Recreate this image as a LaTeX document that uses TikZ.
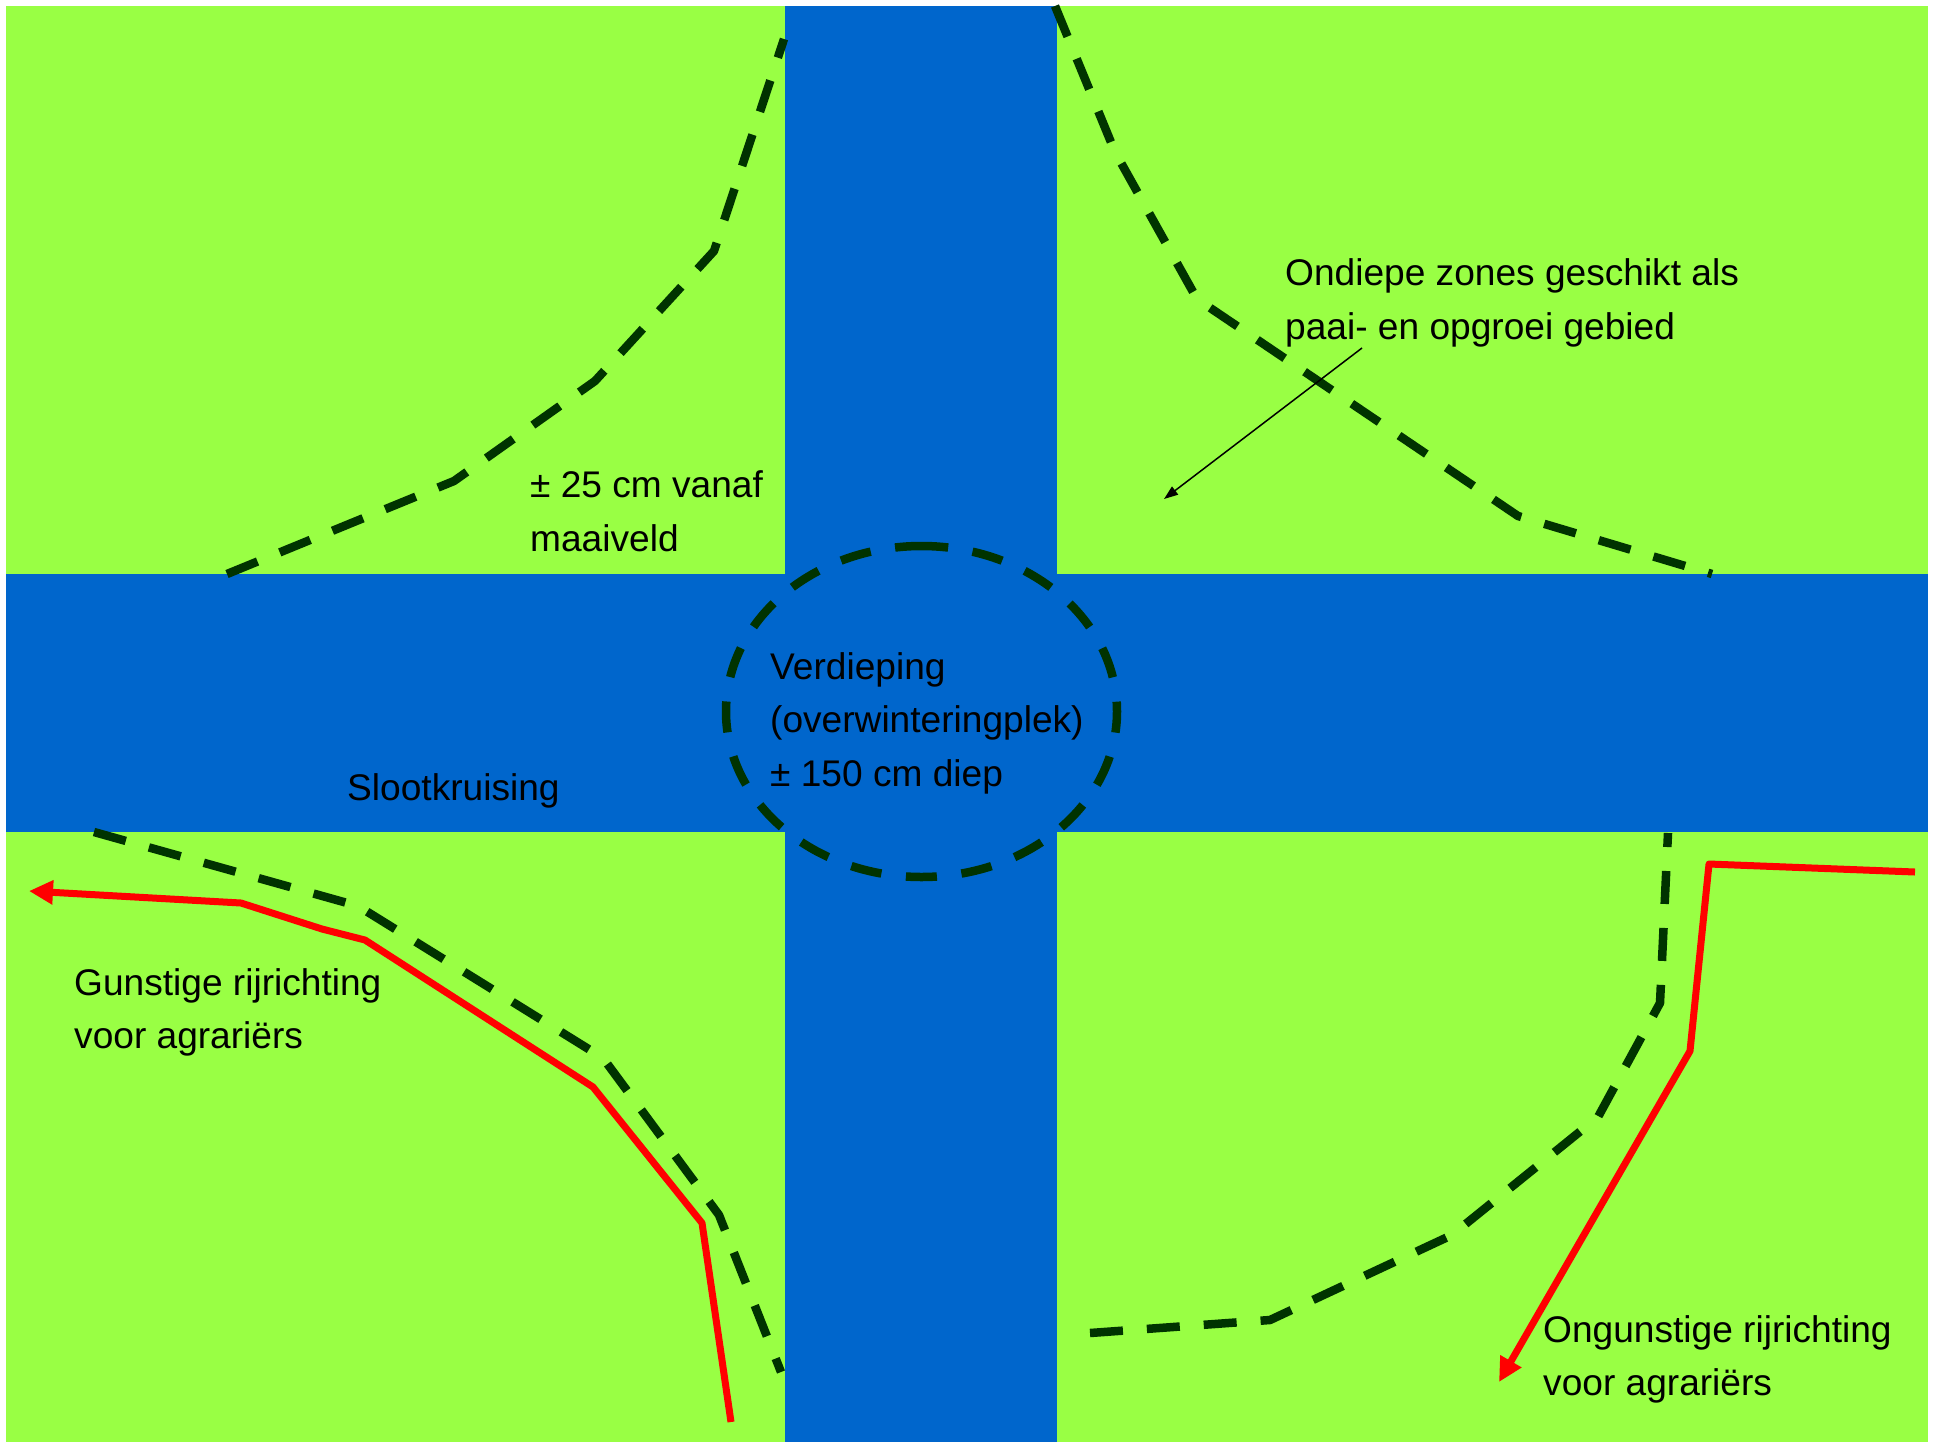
\documentclass[tikz,border=0pt]{standalone}
\usepackage{fontspec}
\setmainfont{Liberation Sans}
\usetikzlibrary{arrows.meta}
\definecolor{field}{RGB}{153,255,68}
\definecolor{water}{RGB}{0,102,204}
\definecolor{edgegreen}{RGB}{0,51,0}
\definecolor{routered}{RGB}{255,0,0}
\begin{document}
\begin{tikzpicture}[x=1pt,y=-1pt,
  zone/.style={draw=edgegreen, line width=8.5pt, dash pattern=on 33pt off 24pt, line join=round},
  routeline/.style={draw=routered, line width=7pt, line join=round, -{Triangle[length=24pt,width=23pt]}},
  pointer/.style={draw=black, line width=1.5pt, -{Triangle[length=14pt,width=10pt]}},
  lbl/.style={anchor=base west, inner sep=0pt, font=\fontsize{37.1}{45}\selectfont}
]
\useasboundingbox (0,0) rectangle (1933,1444);
% field and ditches
\fill[field] (6,6) rectangle (1928,1442);
\fill[water] (785,6) rectangle (1057,1442);
\fill[water] (6,574) rectangle (1928,832);

% shallow zone borders
\draw[zone] (227,574) -- (454,481) -- (595,381) -- (714,251) -- (784,39);
\draw[zone] (1055,6) -- (1115,152) -- (1197,299) -- (1518,516) -- (1712,574);
\draw[zone] (94,832) -- (358,906) -- (603,1058) -- (719,1215) -- (781,1372);
\draw[zone] (1090,1333) -- (1270,1320) -- (1452,1235) -- (1598,1117) -- (1660,1003) -- (1668,833);

% deepening
\begin{scope}[shift={(921.5,711.5)}, rotate=90]
\draw[draw=edgegreen, line width=8.5pt, dash pattern=on 31pt off 24.7pt, dash phase=4.5pt]
  (0,0) ellipse [x radius=165.5pt, y radius=195.5pt];
\end{scope}

% driving directions
\draw[routeline] (731,1422) -- (702,1223) -- (593,1087) -- (365,940) -- (322,929) -- (241,903) -- (29,891);
\draw[routeline] (1915,872) -- (1709,864) -- (1690,1051) -- (1499,1382);

% labels
\node[lbl] (t25a) at (530,497) {± 25 cm vanaf};
\node[lbl] (t25b) at (530,551) {maaiveld};
\node[lbl] (oz1) at (1285,285) {Ondiepe zones geschikt als};
\node[lbl] (oz2) at (1285,339) {paai- en opgroei gebied};
\node[lbl] (v1) at (770,679) {Verdieping};
\node[lbl] (v2) at (770,732) {(overwinteringplek)};
\node[lbl] (v3) at (770,786) {± 150 cm diep};
\node[lbl] (sk) at (347,800) {Slootkruising};
\node[lbl] (g1) at (74,995) {Gunstige rijrichting};
\node[lbl] (g2) at (74,1048) {voor agrariërs};
\node[lbl] (o1) at (1543,1342) {Ongunstige rijrichting};
\node[lbl] (o2) at (1543,1395) {voor agrariërs};

% pointer
\coordinate (pstart) at (1362,348);
\coordinate (ptip) at (1164,499);
\draw[pointer] (pstart) -- (ptip);
\end{tikzpicture}
\end{document}
